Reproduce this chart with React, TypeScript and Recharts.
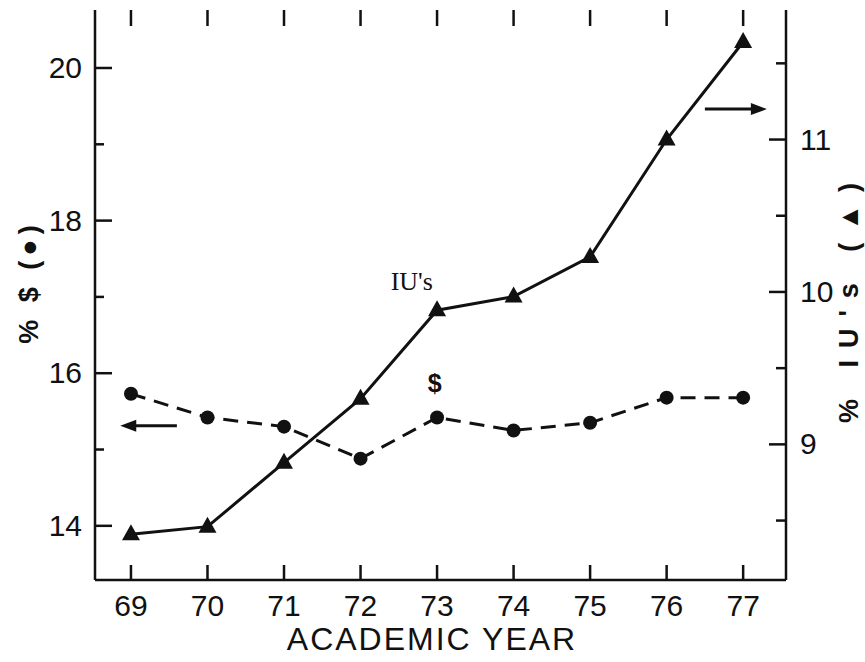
import React from 'react';
import {
  ComposedChart, Line, XAxis, YAxis, ReferenceLine, ReferenceDot, Customized
} from 'recharts';

// academic year (19xx) and share values
const years = [69, 70, 71, 72, 73, 74, 75, 76, 77];
const dollarShare = [15.73, 15.42, 15.3, 14.88, 15.42, 15.25, 15.35, 15.68, 15.68];
const iuShare = [8.41, 8.46, 8.88, 9.3, 9.88, 9.97, 10.23, 11.0, 11.64];

const leftTicks = [14, 15, 16, 17, 18, 19, 20];
const leftLabels = [14, 16, 18, 20];
const rightTicks = [8.5, 9, 9.5, 10, 10.5, 11, 11.5];
const rightLabels = [9, 10, 11];

const data = years.map((year, i) => ({ year, dollar: dollarShare[i], iu: iuShare[i] }));

const FONT = '"Liberation Sans", Arial, sans-serif';
const INK = '#111';
const X_DOMAIN = [68.53, 77.56];
const L_DOMAIN = [13.29, 20.76];
const R_DOMAIN = [8.11, 11.85];
const frame = { stroke: INK, strokeWidth: 2.5 };

const W = 865;
const H = 662;
const MARGIN = { top: 10, right: 19, bottom: 42, left: 35 };
const AXIS_W = 60;
const AXIS_H = 40;
const plot = {
  left: MARGIN.left + AXIS_W,
  right: W - MARGIN.right - AXIS_W,
  top: MARGIN.top,
  bottom: H - MARGIN.bottom - AXIS_H,
};
const lin = (d: number[], r0: number, r1: number) => (v: number) => r0 + ((v - d[0]) / (d[1] - d[0])) * (r1 - r0);
const sx = lin(X_DOMAIN, plot.left, plot.right);
const sl = lin(L_DOMAIN, plot.bottom, plot.top);
const sr = lin(R_DOMAIN, plot.bottom, plot.top);

// inward tick marks and tick labels on all four sides of the frame
function Frame() {
  const tick = { stroke: INK, strokeWidth: 2.5 };
  return (
    <g>
      {leftTicks.map((v) => {
        const major = leftLabels.includes(v);
        return (
          <g key={`l${v}`}>
            <line x1={plot.left} y1={sl(v)} x2={plot.left + (major ? 17 : 9)} y2={sl(v)} {...tick} />
            {major && (
              <text x={plot.left - 13} y={sl(v) + 10} textAnchor="end" fontFamily={FONT} fontSize={30} fill={INK}>{v}</text>
            )}
          </g>
        );
      })}
      {rightTicks.map((v) => {
        const major = rightLabels.includes(v);
        return (
          <g key={`r${v}`}>
            <line x1={plot.right} y1={sr(v)} x2={plot.right - (major ? 17 : 10)} y2={sr(v)} {...tick} />
            {major && (
              <text x={plot.right + 14} y={sr(v) + 10} textAnchor="start" fontFamily={FONT} fontSize={30} fill={INK}>{v}</text>
            )}
          </g>
        );
      })}
      {years.map((v) => (
        <g key={`x${v}`}>
          <line x1={sx(v)} y1={plot.top} x2={sx(v)} y2={plot.top + 16} {...tick} />
          <line x1={sx(v)} y1={plot.bottom} x2={sx(v)} y2={plot.bottom - 15} {...tick} />
          <text x={sx(v)} y={plot.bottom + 36} textAnchor="middle" fontFamily={FONT} fontSize={30} fill={INK}>{v}</text>
        </g>
      ))}
      <text x={432} y={650} textAnchor="middle" fontFamily={FONT} fontSize={32} letterSpacing={2} fill={INK}>ACADEMIC YEAR</text>
      <text x={38} y={282} transform="rotate(-90 38 282)" textAnchor="middle" fontFamily={FONT} fontSize={27} fontWeight="bold" letterSpacing={5} fill={INK}>% $ (●)</text>
      <text x={858} y={297} transform="rotate(-90 858 297)" textAnchor="middle" fontFamily={FONT} fontSize={27} fontWeight="bold" letterSpacing={12} fill={INK}>% IU's (▲)</text>
    </g>
  );
}

function Triangle({ cx, cy, index }: any) {
  return (
    <polygon key={index} points={`${cx},${cy - 10} ${cx - 9},${cy + 6} ${cx + 9},${cy + 6}`} fill={INK} />
  );
}

function Arrow({ x1, y1, x2, y2 }: any) {
  const dir = x2 > x1 ? 1 : -1;
  return (
    <g>
      <line x1={x1} y1={y1} x2={x2 - dir * 10} y2={y2} stroke={INK} strokeWidth={3} />
      <polygon points={`${x2},${y2} ${x2 - dir * 16},${y2 - 6} ${x2 - dir * 16},${y2 + 6}`} fill={INK} />
    </g>
  );
}

export default function App() {
  return (
    <div style={{ position: 'absolute', left: 0, top: 0, background: '#fff' }}>
      <ComposedChart width={W} height={H} data={data} margin={MARGIN}>
        <XAxis
          xAxisId="b" dataKey="year" type="number" domain={X_DOMAIN} allowDataOverflow
          ticks={years} tickLine={false} tick={false} axisLine={frame} height={AXIS_H}
        />
        <XAxis
          xAxisId="t" orientation="top" dataKey="year" type="number" domain={X_DOMAIN} allowDataOverflow
          ticks={years} tickLine={false} tick={false} axisLine={frame} height={0}
        />
        <YAxis
          yAxisId="l" type="number" domain={L_DOMAIN} allowDataOverflow ticks={leftTicks}
          tickLine={false} tick={false} axisLine={frame} width={AXIS_W}
        />
        <YAxis
          yAxisId="r" orientation="right" type="number" domain={R_DOMAIN} allowDataOverflow ticks={rightTicks}
          tickLine={false} tick={false} axisLine={frame} width={AXIS_W}
        />

        <Line
          xAxisId="b" yAxisId="l" dataKey="dollar" type="linear" stroke={INK} strokeWidth={3}
          strokeDasharray="15 9" dot={{ r: 7, fill: INK, stroke: INK, strokeWidth: 0, strokeDasharray: '' }}
          isAnimationActive={false}
        />
        <Line
          xAxisId="b" yAxisId="r" dataKey="iu" type="linear" stroke={INK} strokeWidth={3}
          dot={<Triangle />} isAnimationActive={false}
        />

        <ReferenceLine
          xAxisId="b" yAxisId="l" segment={[{ x: 69.6, y: 15.31 }, { x: 68.86, y: 15.31 }]}
          shape={<Arrow />}
        />
        <ReferenceLine
          xAxisId="b" yAxisId="r" segment={[{ x: 76.5, y: 11.2 }, { x: 77.31, y: 11.2 }]}
          shape={<Arrow />}
        />
        <ReferenceDot
          xAxisId="b" yAxisId="r" x={72.67} y={10.07}
          shape={(p: any) => (
            <text x={p.cx} y={p.cy} dy={9} textAnchor="middle" fontFamily='"Liberation Serif", serif' fontSize={26} fill={INK}>IU's</text>
          )}
        />
        <ReferenceDot
          xAxisId="b" yAxisId="l" x={72.97} y={15.87}
          shape={(p: any) => (
            <text x={p.cx} y={p.cy} dy={9} textAnchor="middle" fontFamily={FONT} fontWeight="bold" fontSize={25} fill={INK}>$</text>
          )}
        />
        <Customized component={Frame} />
      </ComposedChart>
    </div>
  );
}
